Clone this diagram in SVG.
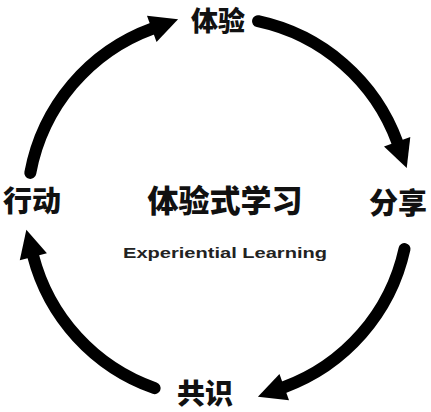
<svg xmlns="http://www.w3.org/2000/svg" width="431" height="412" viewBox="0 0 431 412">
  <style>
    .arc { fill: none; stroke: #000; stroke-width: 12; stroke-linecap: round; marker-end: url(#head); }
    .cn { font-family: "Noto Sans CJK SC", "Noto Sans", sans-serif; font-weight: 900; fill: #111; text-anchor: middle; }
    .en { font-family: "Liberation Sans", Arial, sans-serif; font-weight: bold; fill: #222; text-anchor: middle; }
  </style>
  <defs>
    <marker id="head" markerUnits="userSpaceOnUse" markerWidth="28" markerHeight="28" viewBox="0 0 28 28" refX="1" refY="14" orient="auto" overflow="visible">
      <path d="M0,0 L28,14 L0,28 Z" fill="#000"/>
    </marker>
  </defs>
  <rect width="431" height="412" fill="#fff"/>
  <g id="connectors">
    <path id="c1" class="arc" d="M30.3,172.9 A191,191 0 0 1 152.7,28.5"/>
    <path id="c2" class="arc" d="M258.0,21.2 A191,191 0 0 1 397.5,142.7"/>
    <path id="c3" class="arc" d="M404.5,249.0 A191,191 0 0 1 283.3,387.5"/>
    <path id="c4" class="arc" d="M154.6,388.2 A191,191 0 0 1 33.1,255.8"/>
  </g>
  <g id="node-tiyan"><text class="cn" x="218" y="31" font-size="27">体验</text></g>
  <g id="node-fenxiang"><text class="cn" x="398" y="214" font-size="29">分享</text></g>
  <g id="node-gongshi"><text class="cn" x="205" y="404" font-size="28">共识</text></g>
  <g id="node-xingdong"><text class="cn" x="32" y="212" font-size="29">行动</text></g>
  <g id="center">
    <text class="cn" x="225" y="212" font-size="31">体验式学习</text>
    <text class="en" x="225" y="258" font-size="15" textLength="204" lengthAdjust="spacingAndGlyphs">Experiential Learning</text>
  </g>
</svg>
